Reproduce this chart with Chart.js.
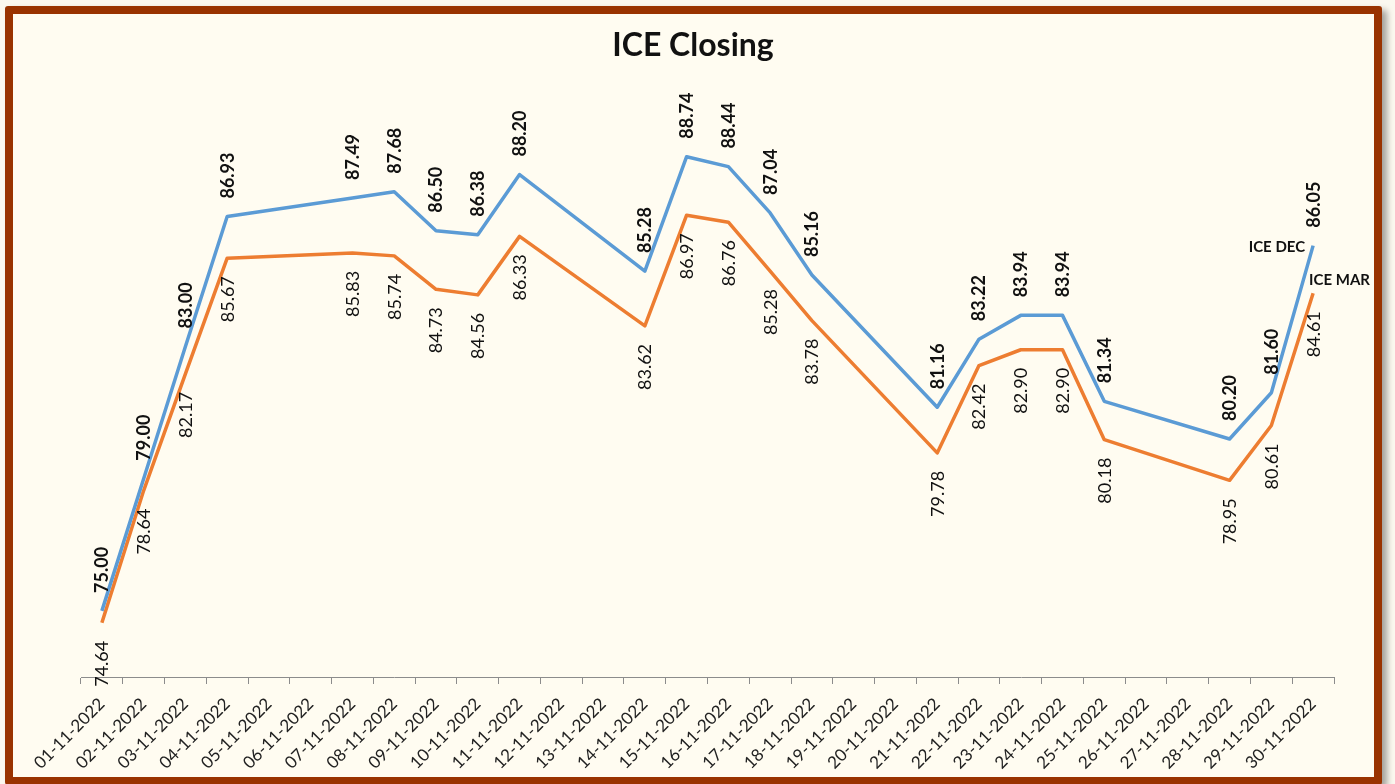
<!DOCTYPE html>
<html>
<head>
<meta charset="utf-8">
<script src="https://cdn.jsdelivr.net/npm/chart.js@4.4.1/dist/chart.umd.min.js"></script>
<style>
    html, body { margin: 0; padding: 0; background: #fbf8ef; overflow: hidden; }
    #frame {
        position: absolute; left: 5px; top: 6px; width: 1377px; height: 779px;
        box-sizing: border-box; border: 8px solid #993300; border-radius: 3px;
        background: #fffcf1; box-shadow: 5px 4px 6px rgba(0,0,0,0.35);
    }
    #wrap { position: absolute; left: 0; top: 0; width: 1395px; height: 784px; }
</style>
</head>
<body>
<div id="frame"></div>
<div id="wrap"><canvas id="chart"></canvas></div>
<script>
const dates = [
    '01-11-2022', '02-11-2022', '03-11-2022', '04-11-2022', '05-11-2022', '06-11-2022',
    '07-11-2022', '08-11-2022', '09-11-2022', '10-11-2022', '11-11-2022', '12-11-2022',
    '13-11-2022', '14-11-2022', '15-11-2022', '16-11-2022', '17-11-2022', '18-11-2022',
    '19-11-2022', '20-11-2022', '21-11-2022', '22-11-2022', '23-11-2022', '24-11-2022',
    '25-11-2022', '26-11-2022', '27-11-2022', '28-11-2022', '29-11-2022', '30-11-2022'
];
const iceDec = [75.00, 79.00, 83.00, 86.93, null, null, 87.49, 87.68, 86.50, 86.38, 88.20, null, null,
    85.28, 88.74, 88.44, 87.04, 85.16, null, null, 81.16, 83.22, 83.94, 83.94, 81.34, null, null,
    80.20, 81.60, 86.05];
const iceMar = [74.64, 78.64, 82.17, 85.67, null, null, 85.83, 85.74, 84.73, 84.56, 86.33, null, null,
    83.62, 86.97, 86.76, 85.28, 83.78, null, null, 79.78, 82.42, 82.90, 82.90, 80.18, null, null,
    78.95, 80.61, 84.61];
const seriesNames = ['ICE DEC', 'ICE MAR'];
const chartTitle = 'ICE Closing';

// rotated value labels, series names at the line ends and the title
const labelPlugin = {
    id: 'iceLabels',
    afterDatasetsDraw(chart) {
        const ctx = chart.ctx;
        ctx.save();
        ctx.fillStyle = '#111';
        chart.data.datasets.forEach((ds, i) => {
            const meta = chart.getDatasetMeta(i);
            const size = 18;
            ctx.font = (i === 0 ? 'bold ' : '') + size + 'px Lato';
            ctx.textBaseline = 'alphabetic';
            meta.data.forEach((pt, j) => {
                const v = ds.data[j];
                if (v === null) return;
                ctx.save();
                if (i === 0) {
                    ctx.translate(pt.x, pt.y - 18);
                    ctx.rotate(-Math.PI / 2);
                    ctx.textAlign = 'left';
                } else {
                    ctx.translate(pt.x, pt.y + 18);
                    ctx.rotate(-Math.PI / 2);
                    ctx.textAlign = 'right';
                }
                ctx.fillText(v.toFixed(2), 0, size * 0.36);
                ctx.restore();
            });
        });

        // series names next to the last points
        ctx.font = 'bold 15px Lato';
        ctx.textBaseline = 'middle';
        const dLast = chart.getDatasetMeta(0).data[dates.length - 1];
        const mLast = chart.getDatasetMeta(1).data[dates.length - 1];
        ctx.textAlign = 'right';
        ctx.fillText(seriesNames[0], dLast.x - 8, dLast.y + 2);
        ctx.textAlign = 'left';
        ctx.fillText(seriesNames[1], mLast.x - 4, mLast.y - 13);

        ctx.font = 'bold 32px Lato';
        ctx.textAlign = 'center';
        ctx.fillText(chartTitle, 693, 46);
        ctx.restore();
    }
};

new Chart(document.getElementById('chart'), {
    type: 'line',
    data: {
        labels: dates,
        datasets: [{
            label: seriesNames[0],
            data: iceDec,
            borderColor: '#5b9bd5',
            borderWidth: 3.5,
            pointRadius: 0,
            spanGaps: true,
            borderJoinStyle: 'round',
            tension: 0
        }, {
            label: seriesNames[1],
            data: iceMar,
            borderColor: '#ed7d31',
            borderWidth: 3.5,
            pointRadius: 0,
            spanGaps: true,
            borderJoinStyle: 'round',
            tension: 0
        }]
    },
    options: {
        responsive: true,
        maintainAspectRatio: false,
        animation: false,
        layout: { padding: { left: 81, right: 61, top: 82, bottom: 0 } },
        plugins: {
            legend: { display: false },
            tooltip: { enabled: false }
        },
        scales: {
            x: {
                offset: true,
                grid: { offset: true, drawOnChartArea: false, drawTicks: true, tickLength: 7, color: '#8c8c8c' },
                border: { display: true, color: '#8c8c8c', width: 1 },
                ticks: {
                    autoSkip: false, minRotation: 45, maxRotation: 45,
                    padding: 10, color: '#222',
                    font: { family: 'Lato', size: 17 }
                },
                afterFit: scale => { scale.height = 107; }
            },
            y: {
                display: false,
                min: 73,
                max: 91
            }
        }
    },
    plugins: [labelPlugin]
});
</script>
</body>
</html>
